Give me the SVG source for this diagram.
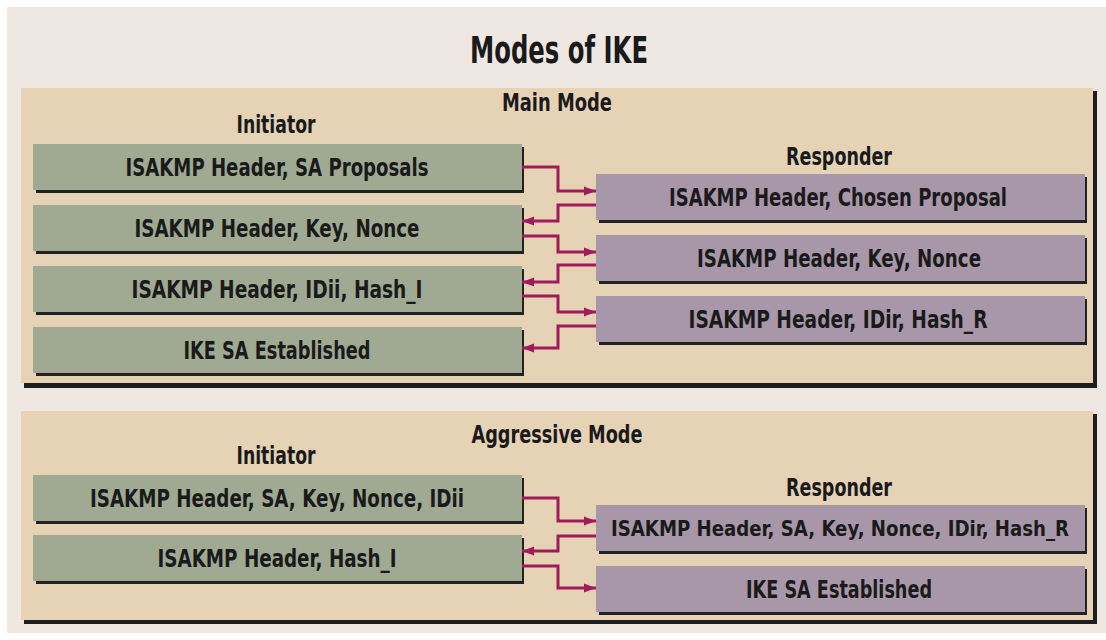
<svg xmlns="http://www.w3.org/2000/svg" width="1106" height="640" viewBox="0 0 1106 640">
<defs>
<style>
.bg{fill:#efe7e2}
.panel{fill:#e6d3b6}
.pshadow{fill:#1e1e1e}
.shadow{fill:#222}
.ini{fill:#a0a992}
.res{fill:#a797a8}
text{font-family:"Liberation Sans Narrow","DejaVu Sans Condensed","Liberation Sans",sans-serif;font-weight:bold;fill:#1a1a1a;text-anchor:middle}
.t{font-size:37px}
.h{font-size:24px}
.b{font-size:24px}
.s{font-size:21px}
.conn{fill:none;stroke:#a11b5c;stroke-width:3}
</style>
<marker id="ah" markerUnits="userSpaceOnUse" markerWidth="12" markerHeight="12" refX="12" refY="6" orient="auto">
<path d="M0,1.5 L12,6 L0,10.5 z" fill="#a11b5c"/>
</marker>
</defs>
<rect class="bg" x="7" y="7" width="1099" height="626"/>
<text class="t" x="559" y="63" textLength="178" lengthAdjust="spacingAndGlyphs">Modes of IKE</text>

<g id="panel-main">
<rect class="pshadow" x="24" y="91" width="1073" height="297"/>
<rect class="panel" x="21" y="88" width="1072" height="295"/>
<text class="h" x="557" y="111" textLength="110" lengthAdjust="spacingAndGlyphs">Main Mode</text>
<text class="h" x="276" y="133" textLength="79" lengthAdjust="spacingAndGlyphs">Initiator</text>
<text class="h" x="839" y="165" textLength="106" lengthAdjust="spacingAndGlyphs">Responder</text>
</g>
<g id="panel-aggr">
<rect class="pshadow" x="24" y="414" width="1073" height="210"/>
<rect class="panel" x="21" y="411" width="1072" height="209"/>
<text class="h" x="557" y="443" textLength="171" lengthAdjust="spacingAndGlyphs">Aggressive Mode</text>
<text class="h" x="276" y="464" textLength="79" lengthAdjust="spacingAndGlyphs">Initiator</text>
<text class="h" x="839" y="496" textLength="106" lengthAdjust="spacingAndGlyphs">Responder</text>
</g>

<g id="m-i1"><rect class="shadow" x="36" y="147" width="488" height="46"/><rect class="ini" x="33" y="144" width="489" height="46"/><text class="b" x="277" y="176" textLength="303" lengthAdjust="spacingAndGlyphs">ISAKMP Header, SA Proposals</text></g>
<g id="m-i2"><rect class="shadow" x="36" y="208" width="488" height="46"/><rect class="ini" x="33" y="205" width="489" height="46"/><text class="b" x="277" y="237" textLength="285" lengthAdjust="spacingAndGlyphs">ISAKMP Header, Key, Nonce</text></g>
<g id="m-i3"><rect class="shadow" x="36" y="269" width="488" height="46"/><rect class="ini" x="33" y="266" width="489" height="46"/><text class="b" x="277" y="298" textLength="291" lengthAdjust="spacingAndGlyphs">ISAKMP Header, IDii, Hash_I</text></g>
<g id="m-i4"><rect class="shadow" x="36" y="330" width="488" height="46"/><rect class="ini" x="33" y="327" width="489" height="46"/><text class="b" x="277" y="359" textLength="187" lengthAdjust="spacingAndGlyphs">IKE SA Established</text></g>

<g id="m-r1"><rect class="shadow" x="599" y="177" width="488" height="46"/><rect class="res" x="596" y="174" width="489" height="46"/><text class="b" x="838" y="206" textLength="338" lengthAdjust="spacingAndGlyphs">ISAKMP Header, Chosen Proposal</text></g>
<g id="m-r2"><rect class="shadow" x="599" y="238" width="488" height="46"/><rect class="res" x="596" y="235" width="489" height="46"/><text class="b" x="839" y="267" textLength="284" lengthAdjust="spacingAndGlyphs">ISAKMP Header, Key, Nonce</text></g>
<g id="m-r3"><rect class="shadow" x="599" y="299" width="488" height="46"/><rect class="res" x="596" y="296" width="489" height="46"/><text class="b" x="838" y="328" textLength="299" lengthAdjust="spacingAndGlyphs">ISAKMP Header, IDir, Hash_R</text></g>

<g id="a-i1"><rect class="shadow" x="36" y="478" width="488" height="46"/><rect class="ini" x="33" y="475" width="489" height="46"/><text class="b" x="277" y="507" textLength="374" lengthAdjust="spacingAndGlyphs">ISAKMP Header, SA, Key, Nonce, IDii</text></g>
<g id="a-i2"><rect class="shadow" x="36" y="538" width="488" height="46"/><rect class="ini" x="33" y="535" width="489" height="46"/><text class="b" x="277" y="567" textLength="239" lengthAdjust="spacingAndGlyphs">ISAKMP Header, Hash_I</text></g>
<g id="a-r1"><rect class="shadow" x="599" y="508" width="488" height="46"/><rect class="res" x="596" y="505" width="489" height="46"/><text class="s" x="840" y="536" textLength="458" lengthAdjust="spacingAndGlyphs">ISAKMP Header, SA, Key, Nonce, IDir, Hash_R</text></g>
<g id="a-r2"><rect class="shadow" x="599" y="569" width="488" height="46"/><rect class="res" x="596" y="566" width="489" height="46"/><text class="b" x="839" y="598" textLength="186" lengthAdjust="spacingAndGlyphs">IKE SA Established</text></g>

<g id="connectors">
<path class="conn" d="M522,167 H558 V191 H596" marker-end="url(#ah)"/>
<path class="conn" d="M596,205 H558 V221 H522" marker-end="url(#ah)"/>
<path class="conn" d="M522,236 H558 V252 H596" marker-end="url(#ah)"/>
<path class="conn" d="M596,265 H558 V282 H522" marker-end="url(#ah)"/>
<path class="conn" d="M522,296 H558 V312 H596" marker-end="url(#ah)"/>
<path class="conn" d="M596,326 H558 V348 H522" marker-end="url(#ah)"/>
<path class="conn" d="M522,498 H558 V521 H596" marker-end="url(#ah)"/>
<path class="conn" d="M596,536 H558 V551 H522" marker-end="url(#ah)"/>
<path class="conn" d="M522,566 H558 V588 H596" marker-end="url(#ah)"/>
</g>
</svg>
